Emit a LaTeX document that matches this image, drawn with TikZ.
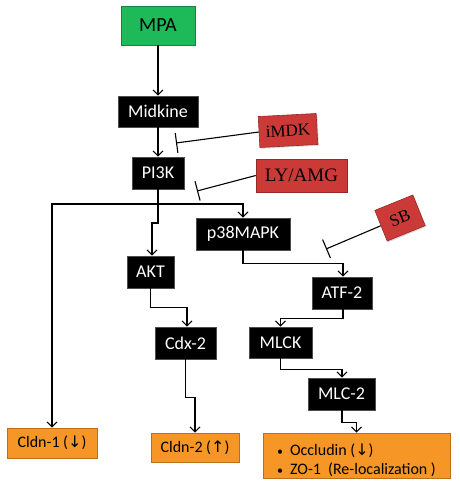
\documentclass[tikz,border=0pt]{standalone}
\usepackage{fontspec}
\usetikzlibrary{arrows.meta,shadows}
\newfontfamily\calfont{Carlito}
\newfontfamily\tmsfont{Liberation Serif}
\newfontfamily\arrfont{DejaVu Sans}
\definecolor{mpagreen}{RGB}{30,186,90}
\definecolor{inhred}{RGB}{204,58,56}
\definecolor{inhredd}{RGB}{150,40,40}
\definecolor{outorange}{RGB}{245,150,38}
\definecolor{outoranged}{RGB}{190,110,25}
\tikzset{
  base/.style={draw, line width=0.6pt, inner sep=0pt, align=center,
    drop shadow={opacity=0.3, shadow xshift=1.2pt, shadow yshift=-1.2pt}},
  blackbox/.style={base, fill=black, draw=black!70, text=white, font=\calfont\fontsize{18}{20}\selectfont},
  greenbox/.style={base, fill=mpagreen, draw=mpagreen!70!black, text=black, font=\calfont\fontsize{20}{22}\selectfont},
  inhbox/.style={base, fill=inhred, draw=inhredd, text=black, font=\tmsfont\fontsize{17}{19}\selectfont},
  outbox/.style={base, fill=outorange, draw=outoranged, text=black, font=\calfont\fontsize{16}{19}\selectfont},
  arr/.style={line width=1.1pt, -{Straight Barb[length=5pt,width=10pt]}},
  inh/.style={line width=1.1pt, -{Bar[width=20pt,line width=1.1pt]}},
}
\newcommand{\smbullet}{\makebox[13pt][l]{\fontsize{12}{12}\selectfont •}}
\begin{document}
\begin{tikzpicture}[x=1pt,y=-1pt]
\useasboundingbox (0,0) rectangle (459,489);
\node[greenbox, minimum width=74, minimum height=39] (mpa) at (158,25.5) {MPA};
\node[blackbox, minimum width=80, minimum height=31] (mdk) at (158,111.5) {Midkine};
\node[blackbox, minimum width=52, minimum height=32] (pi3k) at (158,173) {PI3K};
\node[inhbox, minimum width=58, minimum height=31, rotate=3] (imdk) at (288,130.5) {iMDK};
\node[inhbox, minimum width=91, minimum height=33, font=\tmsfont\fontsize{19}{21}\selectfont] (ly) at (301.5,175.5) {LY/AMG};
\node[blackbox, minimum width=94, minimum height=32] (p38) at (243,234) {p38MAPK};
\node[blackbox, minimum width=47, minimum height=32] (akt) at (150.5,272) {AKT};
\node[inhbox, minimum width=41, minimum height=33, rotate=22] (sb) at (400,218) {SB};
\node[blackbox, minimum width=60, minimum height=32] (atf) at (342,293) {ATF-2};
\node[blackbox, minimum width=61, minimum height=32] (cdx) at (185.5,343) {Cdx-2};
\node[blackbox, minimum width=63, minimum height=31] (mlck) at (280.5,342.5) {MLCK};
\node[blackbox, minimum width=67, minimum height=32] (mlc) at (341.5,394) {MLC-2};
\node[outbox, minimum width=90, minimum height=30] (cl1) at (52,443) {Cldn-1 ({\arrfont ↓})};
\node[outbox, minimum width=88, minimum height=29] (cl2) at (195,447.5) {Cldn-2 ({\arrfont ↑})};
\node[outbox, minimum width=187, minimum height=45, align=left, text depth=0pt] (occ) at (356.5,455.5)
  {\rule{0pt}{18pt}\smbullet Occludin ({\arrfont ↓})\\ \smbullet ZO-1\ \ (Re-localization )};
% coordinates
\coordinate (j1) at (158,204);
\coordinate (imdkend) at (176,143);
\coordinate (lyend) at (197,191);
\coordinate (sbend) at (326,249);
% connectors
\draw[arr] (mpa.south) -- (mdk.north);
\draw[arr] (mdk.south) -- (pi3k.north);
\draw[inh] (imdk.west) -- (imdkend);
\draw[inh] (ly.west) -- (lyend);
\draw[line width=1.1pt] (pi3k.south) -- (j1);
\draw[arr] (j1) -| (p38.north);
\draw[arr] (j1) -| (cl1.north);
\draw[arr] (j1) -- ++(0,19) -| ([xshift=1.5pt]akt.north);
\draw[arr] (p38.south) -- ++(0,13) -| ([xshift=1pt]atf.north);
\draw[inh] (sb.west) -- (sbend);
\draw[arr] (akt.south) -- ++(0,19) -| ([xshift=1.5pt]cdx.north);
\draw[arr] ([xshift=1pt]atf.south) -- ++(0,9) -| (mlck.north);
\draw[arr] (cdx.south) -- ++(0,38) -| (cl2.north);
\draw[arr] (mlck.south) -- ++(0,11) -| ([xshift=0.5pt]mlc.north);
\draw[arr] ([xshift=0.5pt]mlc.south) -- ++(0,12) -| (occ.north);
\end{tikzpicture}
\end{document}
